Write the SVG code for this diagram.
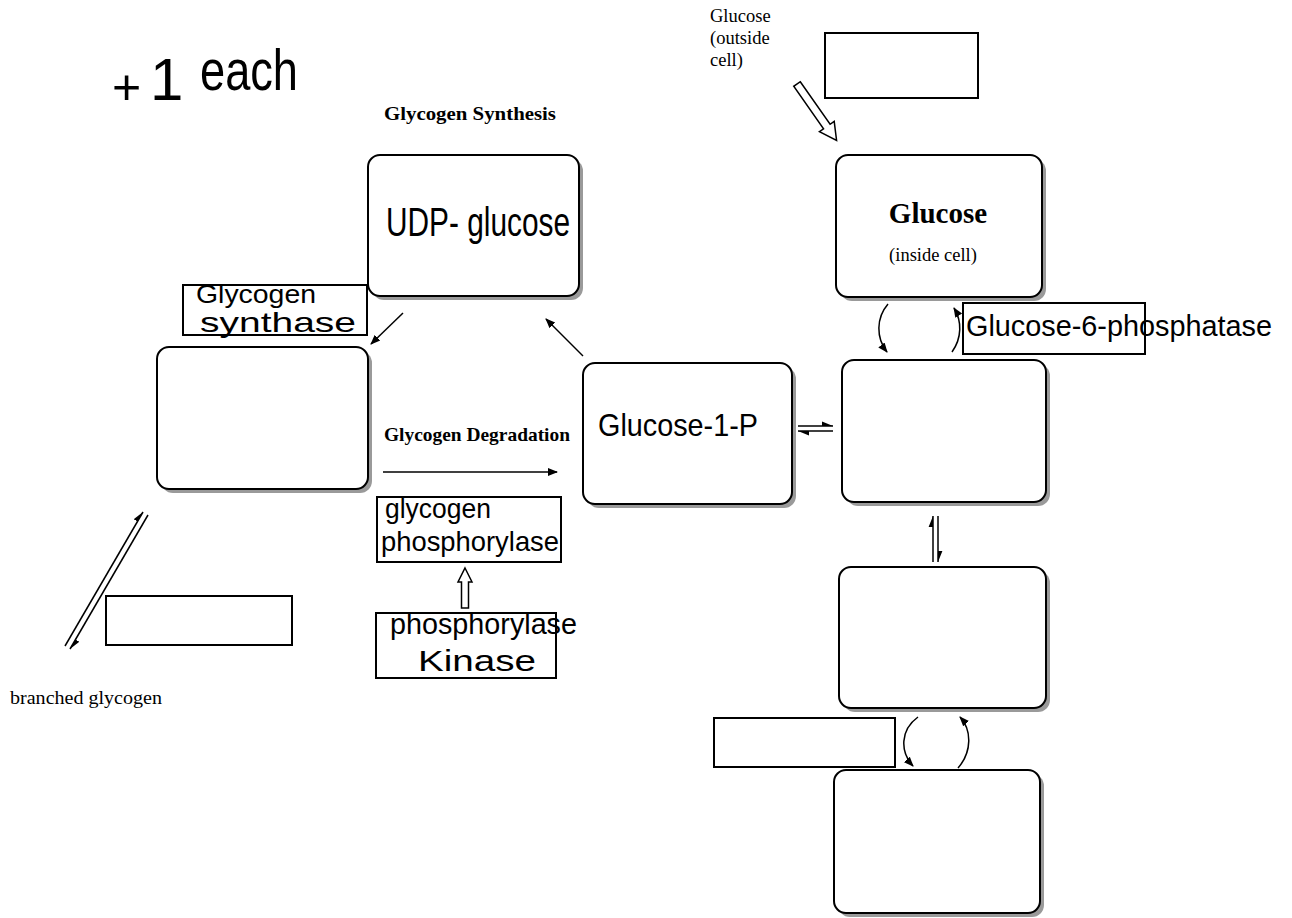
<svg xmlns="http://www.w3.org/2000/svg" width="1292" height="918" viewBox="0 0 1292 918">
<style>
.box{fill:#fff;stroke:#000;stroke-width:2}
.sh{fill:#9a9a9a}
.rect{fill:#fff;stroke:#000;stroke-width:2}
.ser{font-family:"Liberation Serif","Times New Roman",serif;fill:#000}
.hw{font-family:"Liberation Sans",Arial,sans-serif;fill:#000}
.ln{fill:none;stroke:#000;stroke-width:1.5}
.hol{fill:#fff;stroke:#000;stroke-width:1.5}
</style>
<defs>
<marker id="arr" viewBox="0 0 10 10" refX="9" refY="5" markerWidth="10" markerHeight="10" markerUnits="userSpaceOnUse" orient="auto">
<path d="M0,1 L10,5 L0,9 Z" fill="#000"/>
</marker>
<marker id="harp" viewBox="0 0 10 10" refX="10" refY="5" markerWidth="11" markerHeight="11" markerUnits="userSpaceOnUse" orient="auto">
<path d="M0,1 L10,5 L0,5 Z" fill="#000"/>
</marker>
</defs>

<g id="plus-one-each">
<text class="hw" font-size="60"><tspan x="112" y="104" font-size="50">+</tspan><tspan x="150" y="100">1</tspan><tspan x="200" y="90" font-size="58" textLength="98" lengthAdjust="spacingAndGlyphs">each</tspan></text>
</g>

<g id="title-synthesis"><text class="ser" x="384" y="120" font-size="18" font-weight="bold" textLength="172" lengthAdjust="spacingAndGlyphs">Glycogen Synthesis</text></g>
<g id="title-degradation"><text class="ser" x="384" y="441" font-size="19" font-weight="bold" textLength="186" lengthAdjust="spacingAndGlyphs">Glycogen Degradation</text></g>

<g id="glucose-outside-label">
<text class="ser" x="710" y="22" font-size="18.5">Glucose</text>
<text class="ser" x="710" y="44" font-size="18.5">(outside</text>
<text class="ser" x="710" y="66" font-size="18.5">cell)</text>
</g>
<g id="glucose-outside-blank"><rect class="rect" x="825" y="33" width="153" height="65"/></g>

<g id="udp-glucose">
<rect class="sh" x="372" y="159" width="211" height="141" rx="12"/>
<rect class="box" x="368" y="155" width="211" height="141" rx="12"/>
<text class="hw" x="386" y="236" font-size="40" textLength="184" lengthAdjust="spacingAndGlyphs">UDP- glucose</text>
</g>

<g id="glycogen-synthase">
<rect class="rect" x="183" y="285" width="184" height="50"/>
<text class="hw" x="196" y="303" font-size="26" textLength="120" lengthAdjust="spacingAndGlyphs">Glycogen</text>
<text class="hw" x="200" y="332" font-size="28" textLength="156" lengthAdjust="spacingAndGlyphs">synthase</text>
</g>

<g id="glycogen-box">
<rect class="sh" x="161" y="351" width="211" height="142" rx="12"/>
<rect class="box" x="157" y="347" width="211" height="142" rx="12"/>
</g>

<g id="glucose-1-p">
<rect class="sh" x="587" y="367" width="209" height="141" rx="12"/>
<rect class="box" x="583" y="363" width="209" height="141" rx="12"/>
<text class="hw" x="598" y="436" font-size="32" textLength="160" lengthAdjust="spacingAndGlyphs">Glucose-1-P</text>
</g>

<g id="glucose-inside">
<rect class="sh" x="840" y="159" width="206" height="142" rx="12"/>
<rect class="box" x="836" y="155" width="206" height="142" rx="12"/>
<text class="ser" x="938" y="223" font-size="29" font-weight="bold" text-anchor="middle">Glucose</text>
<text class="ser" x="933" y="261" font-size="18.5" text-anchor="middle">(inside cell)</text>
</g>

<g id="glucose-6-phosphatase">
<rect class="rect" x="963" y="303" width="182" height="51"/>
<text class="hw" x="966" y="336" font-size="30" textLength="306" lengthAdjust="spacingAndGlyphs">Glucose-6-phosphatase</text>
</g>

<g id="g6p-box">
<rect class="sh" x="846" y="364" width="204" height="142" rx="12"/>
<rect class="box" x="842" y="360" width="204" height="142" rx="12"/>
</g>

<g id="box-3">
<rect class="sh" x="843" y="571" width="207" height="141" rx="12"/>
<rect class="box" x="839" y="567" width="207" height="141" rx="12"/>
</g>

<g id="box-4-blank"><rect class="rect" x="714" y="718" width="181" height="49"/></g>

<g id="box-4">
<rect class="sh" x="838" y="774" width="206" height="143" rx="12"/>
<rect class="box" x="834" y="770" width="206" height="143" rx="12"/>
</g>

<g id="glycogen-phosphorylase">
<rect class="rect" x="377" y="497" width="184" height="65"/>
<text class="hw" x="385" y="518" font-size="27" textLength="106" lengthAdjust="spacingAndGlyphs">glycogen</text>
<text class="hw" x="381" y="551" font-size="28" textLength="178" lengthAdjust="spacingAndGlyphs">phosphorylase</text>
</g>

<g id="phosphorylase-kinase">
<rect class="rect" x="376" y="613" width="180" height="65"/>
<text class="hw" x="390" y="634" font-size="29" textLength="187" lengthAdjust="spacingAndGlyphs">phosphorylase</text>
<text class="hw" x="418" y="671" font-size="29" textLength="118" lengthAdjust="spacingAndGlyphs">Kinase</text>
</g>

<g id="branched-glycogen">
<rect class="rect" x="106" y="596" width="186" height="49"/>
<text class="ser" x="10" y="704" font-size="19" textLength="152" lengthAdjust="spacingAndGlyphs">branched glycogen</text>
</g>

<g id="connectors">
<polygon class="hol" transform="translate(797,84) rotate(55)" points="0,-4 52,-4 52,-9 69,0 52,9 52,4 0,4"/>
<polygon class="hol" points="465,568 472,582 468.5,582 468.5,608 461.5,608 461.5,582 458,582"/>
<line class="ln" x1="403" y1="313" x2="371" y2="344" marker-end="url(#arr)"/>
<line class="ln" x1="583" y1="356" x2="546" y2="319" marker-end="url(#arr)"/>
<line class="ln" x1="383" y1="472" x2="557" y2="472" marker-end="url(#arr)"/>
<line class="ln" x1="798" y1="426" x2="833" y2="426" marker-end="url(#harp)"/>
<line class="ln" x1="833" y1="431" x2="798" y2="431" marker-end="url(#harp)"/>
<line class="ln" x1="933" y1="562" x2="933" y2="516" marker-end="url(#harp)"/>
<line class="ln" x1="938" y1="516" x2="938" y2="562" marker-end="url(#harp)"/>
<line class="ln" x1="65" y1="646" x2="143" y2="512" marker-end="url(#harp)"/>
<line class="ln" x1="148" y1="515" x2="70" y2="649" marker-end="url(#harp)"/>
<path class="ln" d="M888,304 C876,318 876,338 887,352" marker-end="url(#arr)"/>
<path class="ln" d="M952,352 C962,338 962,321 954,308" marker-end="url(#arr)"/>
<path class="ln" d="M918,717 C900,730 900,752 913,766" marker-end="url(#arr)"/>
<path class="ln" d="M958,768 C972,752 972,730 960,717" marker-end="url(#arr)"/>
</g>
</svg>
